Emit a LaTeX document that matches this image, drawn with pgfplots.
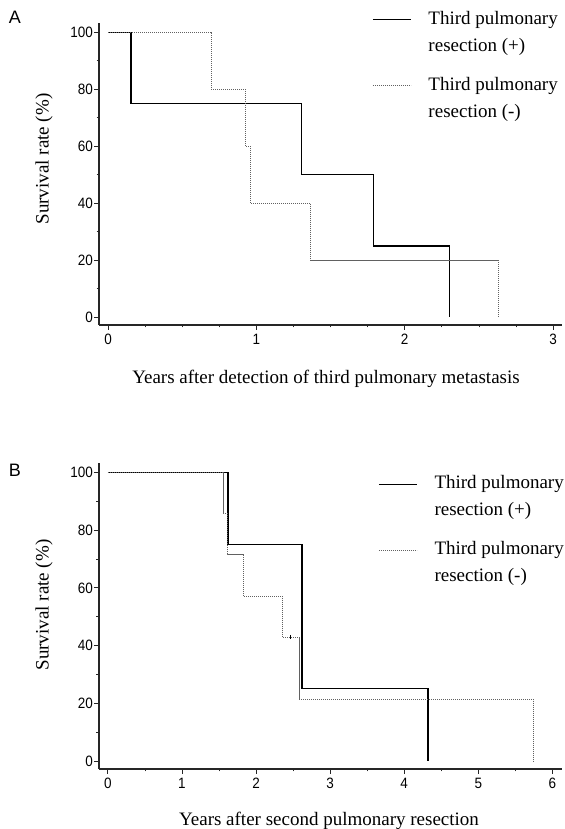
\documentclass[border=0pt]{standalone}
\usepackage{fontspec}
\setmainfont{Liberation Serif}
\newfontfamily\panelfont{Liberation Sans}
\newfontfamily\tickfont[FakeStretch=0.9]{Liberation Sans}
\usepackage{pgfplots}
\pgfplotsset{compat=1.18}

\newcommand{\bigtxt}{\fontsize{19bp}{27bp}\selectfont}
\newcommand{\twol}[2]{\begin{tabular}{@{}l@{}}#1\\#2\end{tabular}}

\pgfplotsset{
  km/.style={
    scale only axis, width=463bp,
    axis x line*=bottom, axis y line*=left,
    axis line style={line width=1.1bp, black!85},
    tick align=outside,
    tick style={black!85, line width=0.8bp},
    major tick length=5bp, minor tick length=2.5bp,
    ymin=-2.8, ymax=103.3,
    ytick={0,20,40,60,80,100}, minor ytick={10,30,50,70,90},
    tick label style={font=\tickfont\fontsize{15bp}{17bp}\selectfont},
    yticklabel style={inner sep=1bp},
    xticklabel style={inner sep=0pt, yshift=-4bp},
    /pgf/number format/assume math mode=true,
    clip=false,
    legend cell align=left,
    legend image code/.code={\path[draw=none] (0bp,-12.5bp) -- (0bp,12.5bp);
      \draw[##1] (0bp,12.5bp) -- (38bp,12.5bp);},
    legend style={draw=none, fill=none, inner sep=0pt, row sep=12bp,
      column sep=17bp, font=\bigtxt, nodes={inner sep=0pt, text depth=}},
  },
  plus/.style={const plot, black, line width=1.3bp},
  minus/.style={const plot, black!62, line width=1bp, dash pattern=on 1.2bp off 0.8bp},
}

\begin{document}
\begin{tikzpicture}
\useasboundingbox (0,0) rectangle (565bp,829bp);

% panel A
\begin{axis}[km, height=302bp, at={(99bp,504bp)}, anchor=south west,
  xmin=-0.061, xmax=3.06,
  xtick={0,1,2,3}, minor xtick={0.25,0.5,0.75,1.25,1.5,1.75,2.25,2.5,2.75},
  legend style={at={(axis description cs:0.5896,1.0596)}, anchor=north west}]
  \addplot[plus] coordinates {(0,100) (0.154,75) (1.305,50) (1.79,25) (2.30,0)};
  \addlegendentry{\twol{Third pulmonary}{resection (+)}}
  \addplot[minus] coordinates {(0,100) (0.695,80) (0.927,60) (0.96,40) (1.366,20) (2.63,0)};
  \addlegendentry{\twol{Third pulmonary}{resection (-)}}
\end{axis}
\node[font=\panelfont\fontsize{18bp}{20bp}\selectfont] at (15bp,812bp) {A};
\node[font=\bigtxt, anchor=base] at (326bp,445bp) {Years after detection of third pulmonary metastasis};
\node[font=\bigtxt, rotate=90] at (44bp,670bp) {Survival rate (\%)};

% panel B
\begin{axis}[km, height=306bp, at={(99bp,60bp)}, anchor=south west,
  xmin=-0.12, xmax=6.13,
  xtick={0,1,2,3,4,5,6}, minor xtick={0.5,1.5,2.5,3.5,4.5,5.5},
  legend style={at={(axis description cs:0.6026,0.978)}, anchor=north west}]
  \addplot[plus] coordinates {(0,100) (1.62,75) (2.62,25) (4.32,0)};
  \addlegendentry{\twol{Third pulmonary}{resection (+)}}
  \addplot[minus] coordinates {(0,100) (1.567,85.7) (1.62,71.4) (1.83,57.1) (2.36,42.9) (2.58,21.4) (5.75,0)};
  \addlegendentry{\twol{Third pulmonary}{resection (-)}}
  \addplot[only marks, mark=|, mark size=2.2bp, black, line width=1bp, forget plot] coordinates {(2.46,42.9)};
\end{axis}
\node[font=\panelfont\fontsize{18bp}{20bp}\selectfont] at (15bp,359bp) {B};
\node[font=\bigtxt, anchor=base] at (329bp,4bp) {Years after second pulmonary resection};
\node[font=\bigtxt, rotate=90] at (44bp,224bp) {Survival rate (\%)};
\end{tikzpicture}
\end{document}
